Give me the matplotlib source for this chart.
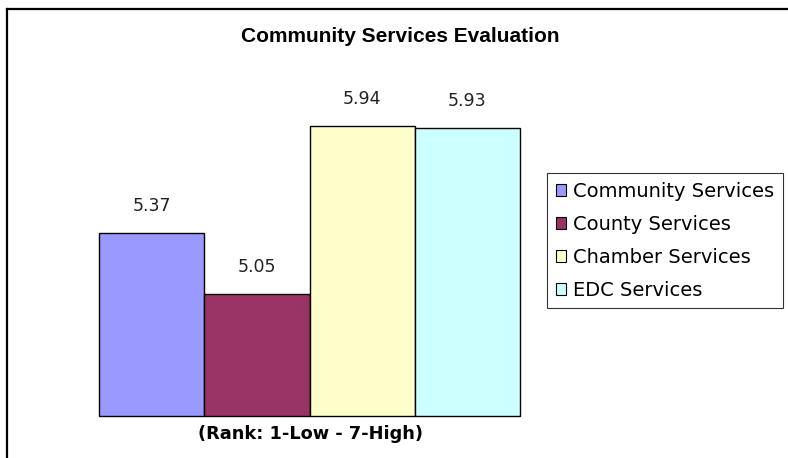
import matplotlib.pyplot as plt
from matplotlib.lines import Line2D

# data
categories = ['Community Services', 'County Services', 'Chamber Services', 'EDC Services']
values = [5.37, 5.05, 5.94, 5.93]
colors = ['#9999FF', '#993366', '#FFFFCC', '#CCFFFF']
y_min, y_max = 4.4, 6.0

W, H = 788, 458
fig = plt.figure(figsize=(W / 100, H / 100), dpi=100)
fig.patch.set_facecolor('white')

# outer frame (only top and left edges visible in the crop)
fig.add_artist(Line2D([6.5 / W, 1.0], [1 - 9 / H, 1 - 9 / H], color='black', lw=1.6))
fig.add_artist(Line2D([6.5 / W, 6.5 / W], [0, 1 - 9 / H], color='black', lw=1.6))

# plot area
left, right, bottom, top = 99, 520, 415.7, 115
ax = fig.add_axes([left / W, 1 - bottom / H, (right - left) / W, (bottom - top) / H])
xs = list(range(len(values)))
bars = ax.bar(xs, [v - y_min for v in values], width=1.0, bottom=y_min,
              color=colors, edgecolor='black', linewidth=1.0)
for b in bars:
    b.set_clip_on(False)
ax.set_xlim(-0.5, len(values) - 0.5)
ax.set_ylim(y_min, y_max)
for s in ax.spines.values():
    s.set_visible(False)
ax.set_xticks([])
ax.set_yticks([])
ax.patch.set_alpha(0)

for x, v in zip(xs, values):
    ax.annotate(f'{v:.2f}', (x, v), xytext=(0, 27), textcoords='offset pixels',
                ha='center', va='center', fontsize=12.5, color='#222222',
                family='DejaVu Sans', annotation_clip=False)

fig.text(400 / W, 1 - 37 / H, 'Community Services Evaluation', ha='center', va='center',
         fontsize=15, fontweight='bold', family='Liberation Sans')
fig.text(310 / W, 1 - 434 / H, '(Rank: 1-Low - 7-High)', ha='center', va='center',
         fontsize=12.8, fontweight='bold', family='DejaVu Sans')

handles = [plt.Rectangle((0, 0), 1, 1, facecolor=c, edgecolor='black', lw=0.8) for c in colors]
leg = fig.legend(handles, categories, loc='upper left',
                 bbox_to_anchor=(547 / W, 1 - 173 / H), fontsize=14,
                 frameon=True, fancybox=False, edgecolor='black',
                 handlelength=0.55, handleheight=0.55, handletextpad=0.35,
                 labelspacing=0.72, borderpad=0.45, borderaxespad=0)
leg.get_frame().set_linewidth(0.8)

fig.savefig('out.png', dpi=100, facecolor='white')
